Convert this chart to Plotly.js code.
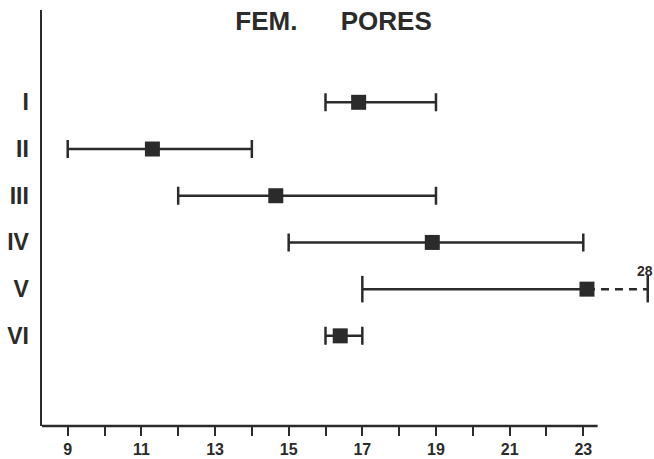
<!DOCTYPE html>
<html>
<head>
<meta charset="utf-8">
<script src="https://cdn.plot.ly/plotly-3.0.1.min.js"></script>
<style>html,body{margin:0;padding:0;background:#fff;}#chart{width:654px;height:459px;}</style>
</head>
<body>
<div id="chart"></div>
<script>
// Data
const groups = ["I", "II", "III", "IV", "V", "VI"];
const rowPos = [1, 2, 3, 4, 5, 6];
const means = [16.9, 11.3, 14.65, 18.9, 23.1, 16.4];
const mins = [16, 9, 12, 15, 17, 16];
const maxs = [19, 14, 19, 23, 28, 17];
// Group V: range continues off-scale (broken, dashed) to its maximum of 28
const brokenGroup = "V";
const brokenShownAt = 24.75;
const xTickVals = [9, 10, 11, 12, 13, 14, 15, 16, 17, 18, 19, 20, 21, 22, 23];
const xTickText = ["9", "", "11", "", "13", "", "15", "", "17", "", "19", "", "21", "", "23"];

const ink = "#2b2b2b";
const bIdx = groups.indexOf(brokenGroup);
const normal = groups.map((g, i) => i).filter(i => i !== bIdx);

const traces = [
  {
    type: "scatter", mode: "markers",
    x: normal.map(i => means[i]), y: normal.map(i => rowPos[i]),
    marker: {symbol: "square", size: 15, color: ink},
    error_x: {
      type: "data", symmetric: false,
      array: normal.map(i => maxs[i] - means[i]),
      arrayminus: normal.map(i => means[i] - mins[i]),
      color: ink, thickness: 2.5, width: 9
    },
    hoverinfo: "skip", showlegend: false
  },
  // broken group: solid from minimum to mean
  {
    type: "scatter", mode: "lines",
    x: [mins[bIdx], means[bIdx]], y: [rowPos[bIdx], rowPos[bIdx]],
    line: {color: ink, width: 2.5},
    hoverinfo: "skip", showlegend: false
  },
  // broken group: dashed continuation off-scale
  {
    type: "scatter", mode: "lines",
    x: [means[bIdx], brokenShownAt], y: [rowPos[bIdx], rowPos[bIdx]],
    line: {color: ink, width: 2.5, dash: "8px,6px"},
    hoverinfo: "skip", showlegend: false
  },
  {
    type: "scatter", mode: "markers",
    x: [mins[bIdx], brokenShownAt], y: [rowPos[bIdx], rowPos[bIdx]],
    marker: {symbol: "line-ns", size: 19, line: {color: ink, width: 2.5}},
    hoverinfo: "skip", showlegend: false
  },
  {
    type: "scatter", mode: "markers",
    x: [means[bIdx]], y: [rowPos[bIdx]],
    marker: {symbol: "square", size: 15, color: ink},
    hoverinfo: "skip", showlegend: false
  }
];

const layout = {
  width: 654, height: 459,
  margin: {l: 42, r: 0, t: 10, b: 33},
  paper_bgcolor: "#fff", plot_bgcolor: "#fff",
  showlegend: false,
  title: {
    text: "FEM.\u00a0\u00a0\u00a0\u00a0\u00a0 PORES",
    font: {family: "Liberation Sans, Arial, sans-serif", size: 26, color: ink, weight: "bold"},
    x: 333.5 / 654, xref: "container", xanchor: "center",
    y: 1 - 20.5 / 459, yref: "container", yanchor: "middle"
  },
  xaxis: {
    range: [8.302, 24.92],
    tickmode: "array", tickvals: xTickVals, ticktext: xTickText,
    ticks: "outside", ticklen: 9, tickwidth: 2, tickcolor: ink,
    tickfont: {family: "Liberation Sans, Arial, sans-serif", size: 16, color: ink, weight: "bold"},
    showgrid: false, zeroline: false, showline: false,
    fixedrange: true
  },
  yaxis: {
    range: [7.93, -0.976],
    tickmode: "array", tickvals: rowPos, ticktext: groups,
    ticks: "", ticklabelstandoff: 6,
    tickfont: {family: "Liberation Sans, Arial, sans-serif", size: 23, color: ink, weight: "bold"},
    showgrid: false, zeroline: false,
    showline: true, linecolor: ink, linewidth: 2.5,
    fixedrange: true
  },
  shapes: [
    {type: "line", xref: "x", yref: "paper", x0: 8.302, x1: 23.39, y0: 0, y1: 0,
     line: {color: ink, width: 2.5}}
  ],
  annotations: [
    {x: brokenShownAt, y: rowPos[bIdx], xref: "x", yref: "y", text: String(maxs[bIdx]),
     showarrow: false, yshift: 18, xshift: -3,
     font: {family: "Liberation Sans, Arial, sans-serif", size: 14, color: ink, weight: "bold"}}
  ]
};

Plotly.newPlot("chart", traces, layout, {displayModeBar: false, staticPlot: true});
</script>
</body>
</html>
